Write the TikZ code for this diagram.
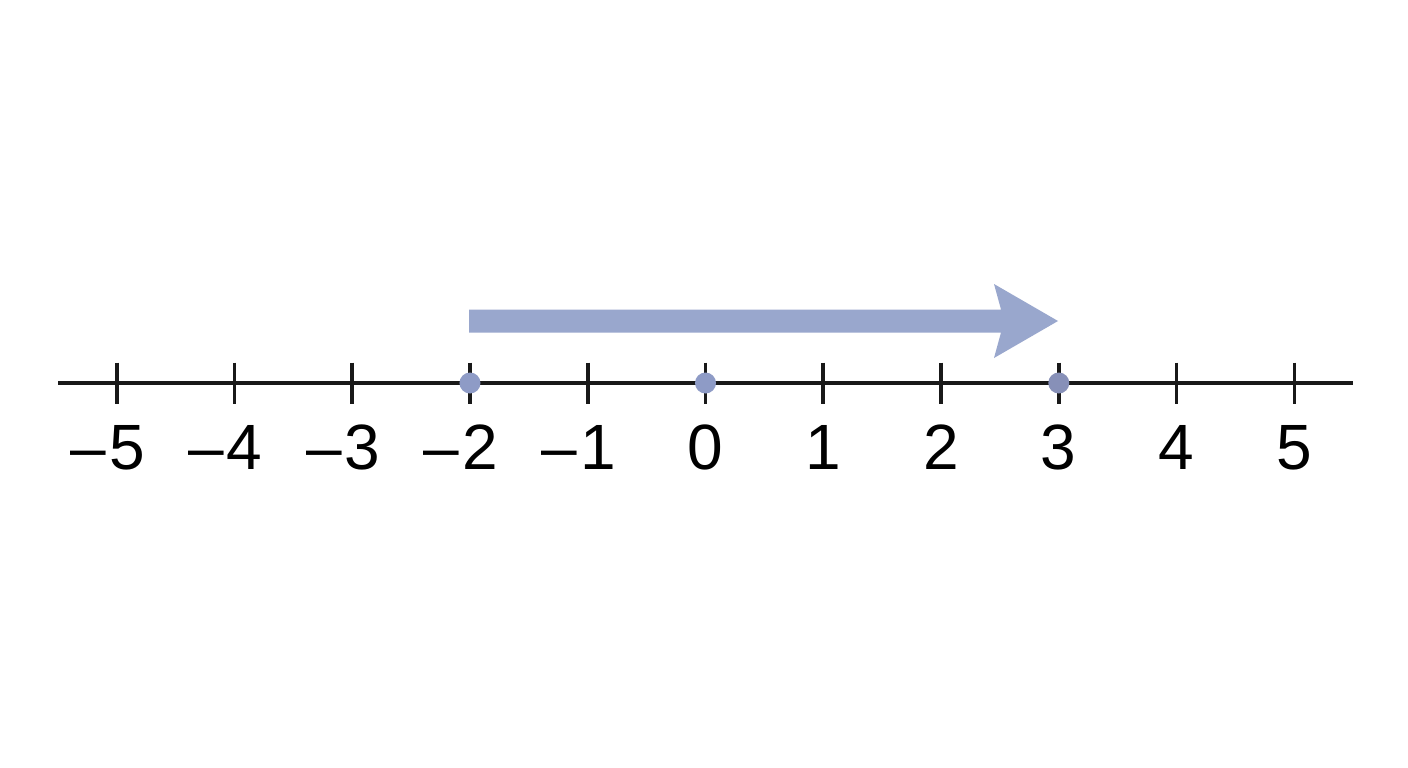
\documentclass[tikz,border=0pt]{standalone}
\usepackage{fontspec}
\setmainfont{Liberation Sans}
\begin{document}
\begin{tikzpicture}[x=1pt,y=-1pt,
  axisline/.style={line width=3.6pt,color=black!90},
  tickmark/.style={line width=3.6pt,color=black!90},
  numlabel/.style={anchor=base,inner sep=0pt,font=\fontsize{64}{64}\selectfont},
  ptdot/.style={circle,fill=dotblue,inner sep=0pt,minimum size=21pt},
]
\definecolor{arrowblue}{HTML}{99A7CD}
\definecolor{dotblue}{HTML}{8E9BC6}
\definecolor{dotblueb}{HTML}{8790B8}
\fill[white] (0,0) rectangle (1408,768);
\useasboundingbox (0,0) rectangle (1408,768);
% axis
\coordinate (L) at (58,383);
\coordinate (R) at (1353,383);
\draw[axisline] (L) -- (R);
% ticks and labels
\foreach \n [count=\i from 0] in {-5,-4,-3,-2,-1,0,1,2,3,4,5}{
  \pgfmathsetmacro{\xx}{116.7+117.76*\i}
  \coordinate (t\i) at (\xx,383);
  \draw[tickmark] (\xx,362.5) -- (\xx,404);
}
\foreach \n [count=\i from 0] in {5,4,3,2,1}{
  \pgfmathsetmacro{\xx}{116.7+117.76*\i-9}
  \node[numlabel] (lab\i) at (\xx,469) {–\kern3pt\n};
}
\foreach \n [count=\i from 5] in {0,1,2,3,4,5}{
  \pgfmathsetmacro{\xx}{116.7+117.76*\i}
  \node[numlabel] (lab\i) at (\xx,469) {\n};
}
% arrow
\fill[arrowblue] (469,309.5) -- (1001,309.5) -- (994,284) -- (1058,321) -- (994,358) -- (1001,332.5) -- (469,332.5) -- cycle;
% dots
\node[ptdot] (d1) at (t3) {};
\node[ptdot] (d2) at (t5) {};
\node[ptdot,fill=dotblueb] (d3) at (t8) {};
\end{tikzpicture}
\end{document}
